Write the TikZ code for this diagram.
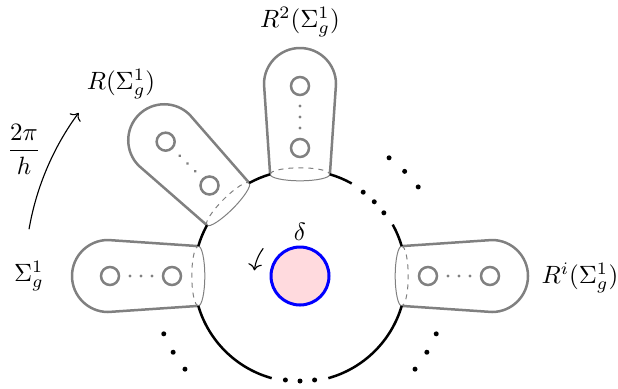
\documentclass[tikz,border=0pt]{standalone}
\usetikzlibrary{arrows.meta}
\definecolor{diskpink}{RGB}{255,218,222}
\begin{document}
\begin{tikzpicture}[x=0.4pt,y=0.4pt,
  armline/.style={gray, line width=1pt},
  seam/.style={gray, line width=0.4pt},
  seamdash/.style={gray, line width=0.4pt, dash pattern=on 2pt off 2pt},
  hole/.style={gray, line width=1pt},
  rim/.style={black, line width=1pt},
  rot/.style={->, line width=0.45pt},
]
\useasboundingbox (0,0) rectangle (618,-388);
\coordinate (C) at (300,-276);
% arms
\foreach \a in {180,135,90,0}{
  \begin{scope}[shift={(C)}, rotate=\a]
    \draw[armline] (101.7,29.9) -- (192,36) arc[start angle=90,end angle=-90,radius=36] -- (101.7,-29.9);
    \draw[seam] (101.7,29.9) arc[start angle=90,end angle=270,x radius=6.5,y radius=29.9];
    \draw[seamdash] (101.7,29.9) arc[start angle=90,end angle=-90,x radius=6.5,y radius=29.9];
    \draw[hole] (128,0) circle[radius=9];
    \draw[hole] (190,0) circle[radius=9];
    \foreach \d in {148,159,170} \fill[gray] (\d,0) circle[radius=1.6];
  \end{scope}
}
% rim arcs
\foreach \s/\e in {151.4/163.6, 106.4/118.6, 60.8/73.6, 16.4/29, -74.5/-16.4, 196.4/254.5}
  \draw[rim] (C) ++(\s:106) arc[start angle=\s, end angle=\e, radius=106];
\foreach \a in {37,45,53,-82,-90,-98}
  \fill (C) ++(\a:105) circle[radius=2.5];
\foreach \a in {37,45,53,203,211,219,-23,-31,-39}
  \fill (C) ++(\a:148) circle[radius=2.5];
% disk
\node[circle, draw=blue, fill=diskpink, line width=1.2pt, minimum size=23.2pt, inner sep=0pt] (disk) at (C) {};
\node (delta) at (300,-232) {$\delta$};
\draw[rot] (C) ++(143:46) arc[start angle=143,end angle=173,radius=46];
\draw[rot] (C) ++(170.2:275) arc[start angle=170.2,end angle=143.6,radius=275];
% labels
\node (s0) at (29,-276) {$\Sigma_g^1$};
\node (s1) at (121,-84) {$R(\Sigma_g^1)$};
\node (s2) at (300,-22) {$R^2(\Sigma_g^1)$};
\node (si) at (580,-278) {$R^i(\Sigma_g^1)$};
\node (angle) at (24,-149) {$\displaystyle\frac{2\pi}{h}$};
\end{tikzpicture}
\end{document}
